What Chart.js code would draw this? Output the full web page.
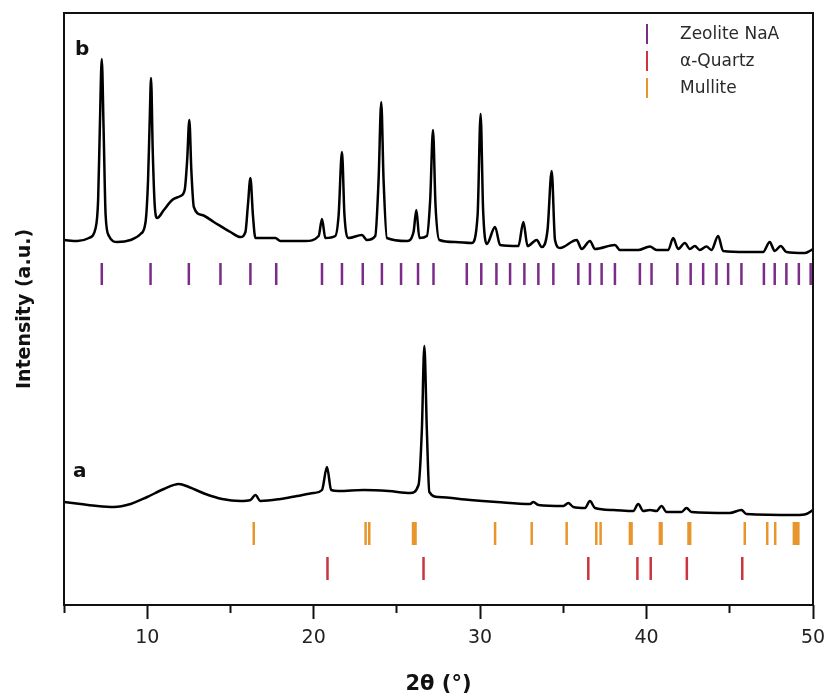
<!DOCTYPE html>
<html>
<head>
<meta charset="utf-8">
<script src="https://cdn.jsdelivr.net/npm/chart.js@4"></script>
<style>
  html, body { margin: 0; padding: 0; background: #fff; }
  #wrap { width: 829px; height: 699px; }
</style>
</head>
<body>
<div id="wrap"><canvas id="xrd"></canvas></div>
<script>

// 2theta (deg) and intensity (a.u.)
const angleB = [5.0, 5.8, 6.5, 6.9, 7.05, 7.15, 7.27, 7.38, 7.5, 7.7, 8.2, 9.0, 9.6, 9.9, 10.05, 10.15, 10.23, 10.33, 10.45, 10.6,
  11.0, 11.5, 12.0, 12.25, 12.4, 12.53, 12.65, 12.8, 13.3, 14.0, 15.0, 15.6, 15.9, 16.05, 16.2, 16.35, 16.5, 17.7, 18.0, 19.5,
  20.3, 20.5, 20.7, 21.3, 21.5, 21.7, 21.85, 22.1, 22.9, 23.2, 23.7, 23.9, 24.06, 24.2, 24.4, 25.6, 26.0, 26.17, 26.35, 26.8,
  27.0, 27.17, 27.32, 27.55, 28.5, 29.5, 29.85, 30.03, 30.18, 30.4, 30.9, 31.2, 32.3, 32.6, 32.85, 33.4, 33.7, 34.05, 34.3, 34.5,
  34.8, 35.8, 36.1, 36.6, 36.9, 38.1, 38.4, 39.5, 40.2, 40.6, 41.3, 41.6, 41.9, 42.3, 42.6, 42.9, 43.2, 43.6, 43.9, 44.3,
  44.6, 46.0, 47.0, 47.4, 47.7, 48.06, 48.4, 49.5, 49.8, 50.0];
const intensityB = [365, 364, 367, 377, 405, 475, 546, 475, 390, 369, 363, 365, 371, 383, 425, 485, 527, 455, 400, 387,
  395, 405, 409, 415, 445, 485, 435, 398, 390, 383, 373, 368, 373, 400, 427, 390, 367, 367, 364, 364,
  369, 386, 367, 369, 390, 453, 390, 367, 370, 365, 369, 425, 503, 425, 367, 364, 373, 395, 367, 369,
  405, 475, 400, 365, 363, 362, 390, 491, 395, 361, 378, 360, 359, 383, 359, 365, 358, 375, 434, 365,
  357, 365, 356, 364, 356, 360, 355, 355, 358.5, 355, 355, 367, 356, 362, 356, 359, 355, 358.5, 355, 369,
  354, 353, 353, 363, 354, 359, 353, 352, 354, 356];

const angleA = [5.0, 6.0, 7.0, 8.0, 9.0, 10.0, 11.0, 11.9, 12.5, 13.5, 14.5, 15.6, 16.2, 16.5, 16.8, 18.0, 19.0, 20.0, 20.5, 20.8,
  21.05, 21.5, 23.0, 24.5, 25.8, 26.3, 26.5, 26.65, 26.8, 26.95, 27.5, 29.4, 31.0, 33.0, 33.2, 33.5, 35.0, 35.3, 35.6, 36.3,
  36.6, 36.9, 38.0, 39.2, 39.5, 39.8, 40.2, 40.6, 40.9, 41.2, 42.1, 42.4, 42.7, 45.0, 45.7, 46.0, 49.0, 49.6, 50.0];
const intensityA = [103, 101, 99, 98, 101, 108, 116, 121, 118, 111, 106, 104, 105, 110, 104, 106, 109, 112, 115, 138,
  115, 114, 115, 114, 112, 120, 175, 259, 175, 113, 108, 105, 103, 101, 103, 100, 99, 102, 98, 97,
  104, 97, 95, 94, 101, 94, 95, 94, 99, 93, 93, 97, 93, 92, 95, 91, 90, 91, 95];

// reference patterns, peak positions 2theta (deg)
const zeolitePeaks = [7.27, 10.2, 12.5, 14.4, 16.2, 17.75, 20.5, 21.7, 22.95, 24.1, 25.25, 26.27, 27.2, 29.2, 30.07, 30.98,
  31.8, 32.66, 33.5, 34.4, 35.9, 36.6, 37.3, 38.1, 39.6, 40.3, 41.85, 42.65, 43.4, 44.2, 44.9, 45.7, 47.05, 47.7, 48.4,
  49.15, 49.86];
const quartzPeaks = [20.83, 26.6, 36.5, 39.45, 40.25, 42.42, 45.75];
const mullitePeaks = [16.4, 23.12, 23.34, 25.97, 26.12, 30.9, 33.1, 35.2, 36.98, 37.24, 39.0, 39.1, 40.8, 40.9, 42.52, 42.62,
  45.9, 47.25, 47.73, 48.85, 48.97, 49.12];

const majorTicks = [10, 20, 30, 40, 50];
const minorTicks = [5, 15, 25, 35, 45];
const phaseNames = ['Zeolite NaA', 'α-Quartz', 'Mullite'];
const phaseColors = ['#7b2c88', '#cc3440', '#e8952c'];

// stick rows (a.u.)
const rowZeolite = [320, 342];
const rowMullite = [60, 83];
const rowQuartz = [25, 48];

function curve(xs, ys) {
  return xs.map((x, i) => ({ x: x, y: ys[i] }));
}

function sticks(peaks, row) {
  let pts = [];
  peaks.forEach(p => {
    pts.push({ x: p, y: row[0] }, { x: p, y: row[1] }, { x: p, y: null });
  });
  return pts;
}

const framePlugin = {
  id: 'frame',
  afterDraw(chart) {
    const ctx = chart.ctx;
    const a = chart.chartArea;
    ctx.save();
    ctx.strokeStyle = '#111';
    ctx.lineWidth = 2;
    ctx.strokeRect(a.left, a.top, a.right - a.left, a.bottom - a.top);

    // sample labels
    ctx.fillStyle = '#111';
    ctx.font = 'bold 20px "DejaVu Sans"';
    ctx.textBaseline = 'alphabetic';
    ctx.fillText('b', a.left + 11, 55);
    ctx.fillText('a', a.left + 9, 477);

    // legend
    ctx.font = '17px "DejaVu Sans"';
    ctx.textBaseline = 'middle';
    phaseNames.forEach((name, i) => {
      const yc = 34 + i * 27;
      ctx.strokeStyle = phaseColors[i];
      ctx.lineWidth = 2;
      ctx.beginPath();
      ctx.moveTo(647, yc - 10);
      ctx.lineTo(647, yc + 10);
      ctx.stroke();
      ctx.fillStyle = '#2a2a2a';
      ctx.fillText(name, 680, yc + 1);
    });
    ctx.restore();
  }
};

const lineStyle = { borderColor: '#000', borderWidth: 2.5, pointRadius: 0, cubicInterpolationMode: 'monotone', fill: false };
const stickStyle = { borderWidth: 2.5, pointRadius: 0, spanGaps: false, fill: false };

new Chart(document.getElementById('xrd'), {
  type: 'line',
  data: {
    datasets: [
      Object.assign({ label: 'b', data: curve(angleB, intensityB) }, lineStyle),
      Object.assign({ label: 'a', data: curve(angleA, intensityA) }, lineStyle),
      Object.assign({ label: phaseNames[0], data: sticks(zeolitePeaks, rowZeolite), borderColor: phaseColors[0] }, stickStyle),
      Object.assign({ label: phaseNames[1], data: sticks(quartzPeaks, rowQuartz), borderColor: phaseColors[1] }, stickStyle),
      Object.assign({ label: phaseNames[2], data: sticks(mullitePeaks, rowMullite), borderColor: phaseColors[2] }, stickStyle)
    ]
  },
  options: {
    responsive: true,
    maintainAspectRatio: false,
    animation: false,
    layout: { padding: { top: 13, right: 16, left: 0, bottom: 0 } },
    plugins: { legend: { display: false }, tooltip: { enabled: false } },
    scales: {
      x2: {
        type: 'linear', position: 'bottom', weight: 0, min: 5, max: 50,
        afterBuildTicks: s => { s.ticks = minorTicks.map(v => ({ value: v })); },
        afterFit: s => { s.height = 0; s.paddingLeft = 0; s.paddingRight = 0; },
        ticks: { display: false },
        border: { display: false },
        grid: { drawOnChartArea: false, drawTicks: true, tickLength: 8, tickWidth: 2, tickColor: '#111', color: '#111' }
      },
      x: {
        type: 'linear', position: 'bottom', weight: 1, min: 5, max: 50,
        afterBuildTicks: s => { s.ticks = majorTicks.map(v => ({ value: v })); },
        afterFit: s => { s.height = 94; s.paddingLeft = 0; s.paddingRight = 0; },
        border: { display: false },
        grid: { drawOnChartArea: false, drawTicks: true, tickLength: 14, tickWidth: 2, tickColor: '#111', color: '#111' },
        ticks: { color: '#222', padding: 8, font: { family: 'DejaVu Sans', size: 19 } },
        title: {
          display: true, text: '2θ (°)', color: '#111',
          font: { family: 'DejaVu Sans', size: 21, weight: 'bold' }, padding: { top: 0, bottom: 2 }
        }
      },
      y: {
        type: 'linear', min: 0, max: 592,
        afterFit: s => { s.width = 64; },
        ticks: { display: false },
        border: { display: false },
        grid: { display: false },
        title: {
          display: true, text: 'Intensity (a.u.)', color: '#111',
          font: { family: 'DejaVu Sans', size: 19, weight: 'bold' }, padding: { top: 14, bottom: 0 }
        }
      }
    }
  },
  plugins: [framePlugin]
});
</script>
</body>
</html>
